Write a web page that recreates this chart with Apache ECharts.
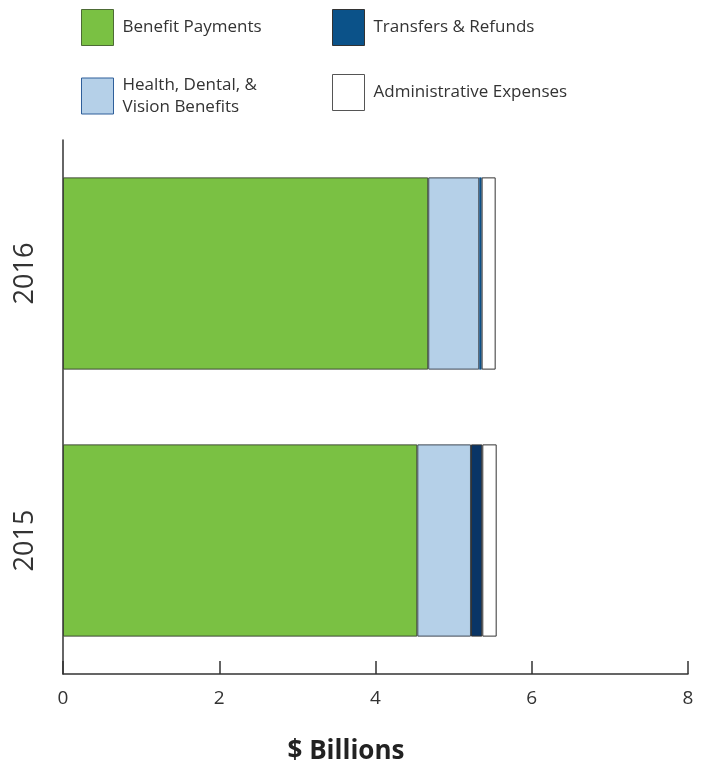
<!DOCTYPE html>
<html>
<head>
<meta charset="utf-8">
<style>html,body{margin:0;padding:0;background:#fff}#c{width:711px;height:764px}</style>
<script src="https://cdn.jsdelivr.net/npm/echarts@6/dist/echarts.min.js"></script>
</head>
<body>
<div id="c"></div>
<script>
var years = ['2015', '2016'];
var benefitPayments = [4.535, 4.675];
var healthBenefits = [0.687, 0.653];
var transfersRefunds = [0.145, 0.03];
var adminExpenses = [0.184, 0.18];
var xTicks = [0, 2, 4, 6, 8];
var seriesNames = ['Benefit Payments', 'Transfers & Refunds', 'Health, Dental, &\nVision Benefits', 'Administrative Expenses'];

var FONT = '"Open Sans", sans-serif';
var chart = echarts.init(document.getElementById('c'));

function legendAt(name, left, top, border) {
  return {
    data: [name], left: left, top: top, padding: 0, selectedMode: false,
    icon: 'rect', itemWidth: 32, itemHeight: 36,
    itemStyle: { borderColor: border, borderWidth: 1 },
    textStyle: { fontFamily: FONT, fontSize: 17, color: '#333', lineHeight: 22, padding: [0, 0, 0, 4] }
  };
}

var barBase = { type: 'bar', stack: 'total', barCategoryGap: '28%', animation: false };

chart.setOption({
  animation: false,
  grid: { left: 63, right: 23, top: 140, bottom: 90 },
  legend: [
    legendAt(seriesNames[0], 81, 9, '#4d6b35'),
    legendAt(seriesNames[1], 332, 9, '#333'),
    legendAt(seriesNames[2], 81, 74, '#2f5f9a'),
    legendAt(seriesNames[3], 332, 74, '#555')
  ],
  title: {
    text: '$ Billions', left: 341, top: 734, textAlign: 'center',
    textStyle: { fontFamily: FONT, fontSize: 26, fontWeight: 'bold', color: '#222' }
  },
  xAxis: {
    type: 'value', min: xTicks[0], max: xTicks[xTicks.length - 1], interval: 2,
    axisLine: { show: true, lineStyle: { color: '#333', width: 1.5 } },
    axisTick: { show: true, inside: true, length: 13, lineStyle: { color: '#333', width: 1.5 } },
    splitLine: { show: false },
    axisLabel: { fontFamily: FONT, fontSize: 19, color: '#333', margin: 15 }
  },
  yAxis: {
    type: 'category', data: years,
    axisLine: { show: true, lineStyle: { color: '#333', width: 1.5 } },
    axisTick: { show: false },
    axisLabel: { rotate: 90, fontFamily: FONT, fontSize: 27, color: '#333', margin: 24 }
  },
  series: [
    Object.assign({}, barBase, {
      name: seriesNames[0], data: benefitPayments,
      itemStyle: { color: '#7ac143', borderColor: '#3d4a33', borderWidth: 1 }
    }),
    Object.assign({}, barBase, {
      name: seriesNames[2], data: healthBenefits,
      itemStyle: { color: '#b5d0e8', borderColor: '#3b4652', borderWidth: 1 }
    }),
    Object.assign({}, barBase, {
      name: seriesNames[1],
      data: [
        { value: transfersRefunds[0], itemStyle: { color: '#0a3566', borderColor: '#333', borderWidth: 1 } },
        { value: transfersRefunds[1], itemStyle: { color: '#0b4f88', borderColor: '#0b4f88', borderWidth: 0.5 } }
      ],
      itemStyle: { color: '#0b5289', borderColor: '#333', borderWidth: 1 }
    }),
    Object.assign({}, barBase, {
      name: seriesNames[3], data: adminExpenses,
      itemStyle: { color: '#ffffff', borderColor: '#333', borderWidth: 1 }
    })
  ]
});
</script>
</body>
</html>
